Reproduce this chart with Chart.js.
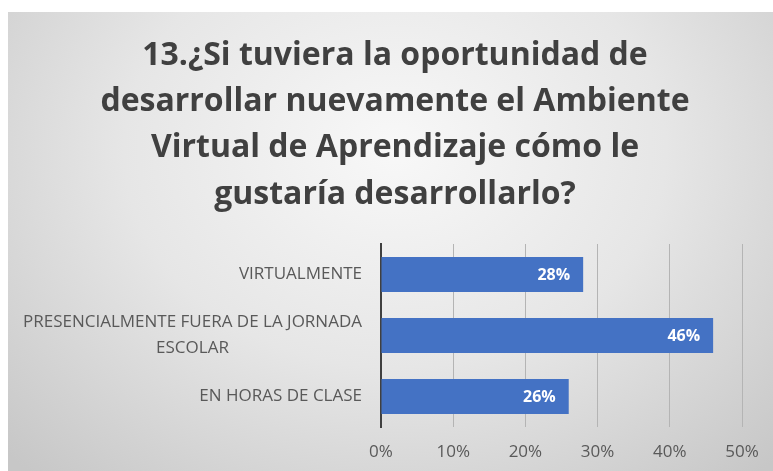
<!DOCTYPE html>
<html>
<head>
<meta charset="utf-8">
<title>Ambiente Virtual de Aprendizaje</title>
<script src="https://cdn.jsdelivr.net/npm/chart.js@4.4.1/dist/chart.umd.min.js"></script>
<style>
    html, body {
        margin: 0;
        padding: 0;
        background: #ffffff;
        overflow: hidden;
        width: 773px;
        height: 471px;
    }
    .chart-box {
        position: absolute;
        left: 8px;
        top: 12px;
        width: 774px;
        height: 459px;
        background: radial-gradient(ellipse 70% 95% at 50% 30%, #f8f8f8 0%, #e6e6e6 50%, #c7c7c7 100%);
    }
</style>
</head>
<body>
<div class="chart-box">
    <canvas id="trendChart" width="774" height="459"></canvas>
</div>
<script>
// Chart data
const titleLines = [
    '13.¿Si tuviera la oportunidad de',
    'desarrollar nuevamente el Ambiente',
    'Virtual de Aprendizaje cómo le',
    'gustaría desarrollarlo?'
];
const categories = [
    ['VIRTUALMENTE'],
    ['PRESENCIALMENTE FUERA DE LA JORNADA', 'ESCOLAR'],
    ['EN HORAS DE CLASE']
];
const percentages = [28, 46, 26];
const axisMin = 0;
const axisMax = 50;
const axisStep = 10;

const barBlue = '#4472C4';
const textGray = '#595959';

/**
 * Title centered over the whole chart box (not the padded plot area)
 */
const boxTitle = {
    id: 'boxTitle',
    afterDraw(chart) {
        const ctx = chart.ctx;
        ctx.save();
        ctx.font = 'bold 32px "Open Sans"';
        ctx.fillStyle = '#404040';
        ctx.textAlign = 'center';
        ctx.textBaseline = 'middle';
        titleLines.forEach((line, i) => {
            ctx.fillText(line, chart.width / 2, 43.5 + i * 46.3);
        });
        ctx.restore();
    }
};

/**
 * Category labels: each block right aligned, lines centered inside it
 */
const categoryLabels = {
    id: 'categoryLabels',
    afterDraw(chart) {
        const ctx = chart.ctx;
        const yScale = chart.scales.y;
        const right = chart.chartArea.left - 19;
        const lineH = 25.7;
        ctx.save();
        ctx.font = '17px "Open Sans"';
        ctx.fillStyle = textGray;
        ctx.textBaseline = 'middle';
        ctx.textAlign = 'center';
        categories.forEach((lines, i) => {
            const yc = yScale.getPixelForValue(i);
            const widest = Math.max(...lines.map(l => ctx.measureText(l).width));
            const cx = right - widest / 2;
            const y0 = yc - (lines.length - 1) * lineH / 2;
            lines.forEach((l, j) => ctx.fillText(l, cx, y0 + j * lineH));
        });
        ctx.restore();
    }
};

/**
 * Value labels inside the end of each bar
 */
const valueLabels = {
    id: 'valueLabels',
    afterDatasetsDraw(chart) {
        const ctx = chart.ctx;
        const meta = chart.getDatasetMeta(0);
        ctx.save();
        ctx.font = 'bold 16px "Open Sans"';
        ctx.fillStyle = '#ffffff';
        ctx.textAlign = 'right';
        ctx.textBaseline = 'middle';
        meta.data.forEach((bar, i) => {
            ctx.fillText(percentages[i] + '%', bar.x - 13, bar.y + 1);
        });
        ctx.restore();
    }
};

document.addEventListener('DOMContentLoaded', function() {
    const ctx = document.getElementById('trendChart').getContext('2d');
    new Chart(ctx, {
        type: 'bar',
        data: {
            labels: categories,
            datasets: [{
                data: percentages,
                backgroundColor: barBlue,
                borderWidth: 0,
                barPercentage: 0.574,
                categoryPercentage: 1
            }]
        },
        options: {
            indexAxis: 'y',
            responsive: false,
            animation: false,
            layout: {
                padding: { left: 0, right: 40, top: 232, bottom: 0 }
            },
            plugins: {
                legend: { display: false },
                tooltip: { enabled: false },
                title: { display: false }
            },
            scales: {
                x: {
                    min: axisMin,
                    max: axisMax,
                    afterFit: scale => { scale.height = 44; },
                    ticks: {
                        stepSize: axisStep,
                        color: textGray,
                        font: { family: 'Open Sans', size: 17 },
                        padding: 15,
                        callback: v => v + '%'
                    },
                    grid: {
                        color: '#b4b4b4',
                        lineWidth: 1,
                        drawTicks: false
                    },
                    border: { display: false }
                },
                y: {
                    afterFit: scale => { scale.width = 373; },
                    ticks: { display: false },
                    grid: { display: false, drawTicks: false },
                    border: { display: true, color: '#404040', width: 2 }
                }
            }
        },
        plugins: [boxTitle, categoryLabels, valueLabels]
    });
});
</script>
</body>
</html>
